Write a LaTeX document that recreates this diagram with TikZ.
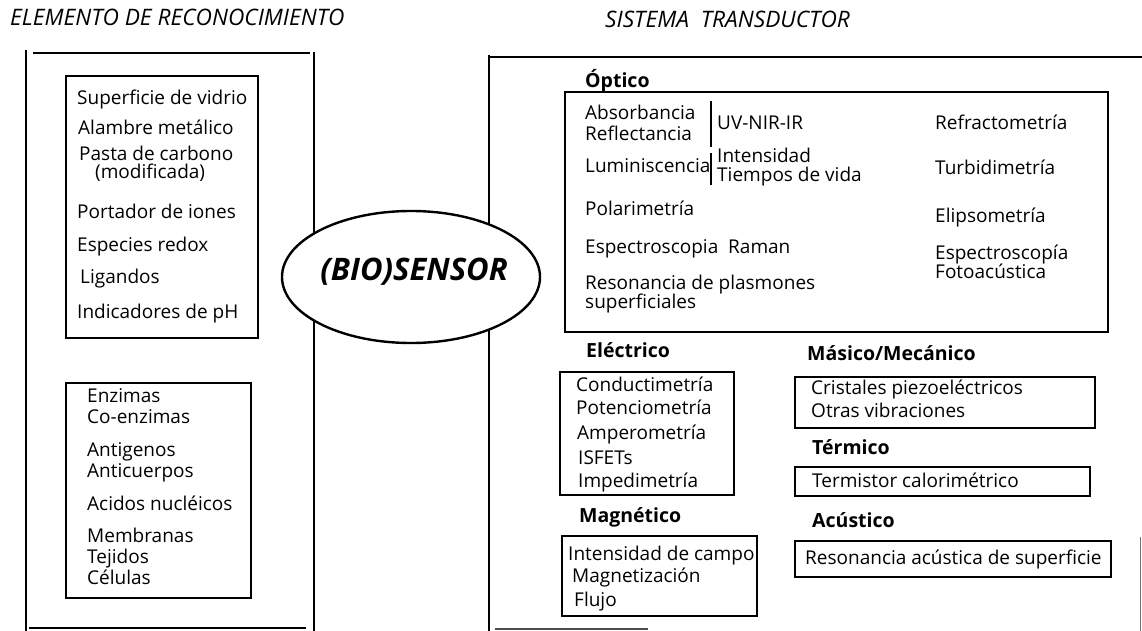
\documentclass[tikz,border=0pt]{standalone}
\usepackage{fontspec}
\setmainfont{Open Sans}
\usetikzlibrary{shapes.geometric}
\begin{document}
\begin{tikzpicture}[x=1pt,y=-1pt,
  txt/.style={anchor=mid west,inner sep=0pt,yshift=-1.5pt,font=\fontsize{19}{20}\selectfont},
  head/.style={anchor=mid west,inner sep=0pt,yshift=-1.5pt,font=\fontsize{19.5}{20}\selectfont\bfseries},
  ttl/.style={anchor=mid west,inner sep=0pt,font=\fontsize{22.7}{24}\selectfont\itshape},
  frame/.style={line width=2.8pt},
  inbox/.style={line width=1.3pt},
  brk/.style={line width=1.1pt},
]
\useasboundingbox (0,0) rectangle (1142,631);

% column titles
\node[ttl] (tleft) at (10,23) {ELEMENTO DE RECONOCIMIENTO};
\node[ttl] (tright) at (605,25) {SISTEMA\ \ TRANSDUCTOR};

% recognition element frame
\draw[frame] (26,50) -- (26,631);
\draw[frame] (314,52) -- (314,631);
\draw[frame] (33,53) -- (310,53);
\draw[frame] (29,628) -- (306,628);

% transducer frame
\draw[frame] (489,55) -- (489,631);
\draw[frame] (489,57) -- (1142,57);
\draw[line width=1.6pt,black!70] (495,629) -- (648,629);
\draw[line width=1pt,black!55] (1140,537) -- (1140,631);

% central ellipse
\node[draw,line width=2.4pt,fill=white,ellipse,minimum width=258pt,minimum height=132pt,inner sep=0pt]
  (bio) at (411,277) {};
\node[inner sep=0pt,font=\fontsize{31}{32}\selectfont\bfseries\itshape] (biotxt) at (414,272) {(BIO)SENSOR};

% recognition: first group
\draw[inbox] (66,76) rectangle (258,338);
\node[txt] (r1) at (77,100) {Superficie de vidrio};
\node[txt] (r2) at (78,130) {Alambre metálico};
\node[txt] (r3) at (79,156) {Pasta de carbono};
\node[txt] (r4) at (95,174) {(modificada)};
\node[txt] (r5) at (77,214) {Portador de iones};
\node[txt] (r6) at (77,247) {Especies redox};
\node[txt] (r7) at (80,279) {Ligandos};
\node[txt] (r8) at (77,314) {Indicadores de pH};

% recognition: biological group
\draw[inbox] (66,383) rectangle (251,598);
\node[txt] (b1) at (87,398) {Enzimas};
\node[txt] (b2) at (87,419) {Co-enzimas};
\node[txt] (b3) at (87,452) {Antigenos};
\node[txt] (b4) at (87,473) {Anticuerpos};
\node[txt] (b5) at (87,506) {Acidos nucléicos};
\node[txt] (b6) at (87,538) {Membranas};
\node[txt] (b7) at (87,559) {Tejidos};
\node[txt] (b8) at (87,580) {Células};

% optical transducers
\node[head] (hopt) at (585,83) {Óptico};
\draw[inbox] (565,92) rectangle (1108,332);
\node[txt] (o1) at (585,115) {Absorbancia};
\node[txt] (o2) at (585,136) {Reflectancia};
\draw[brk] (711,101) -- (711,147);
\node[txt] (o3) at (717,125) {UV-NIR-IR};
\node[txt] (o4) at (585,168) {Luminiscencia};
\draw[brk] (711,153) -- (711,185);
\node[txt] (o5) at (717,158) {Intensidad};
\node[txt] (o6) at (717,177) {Tiempos de vida};
\node[txt] (o7) at (585,211) {Polarimetría};
\node[txt] (o8) at (585,249) {Espectroscopia\ \ Raman};
\node[txt] (o9) at (585,285) {Resonancia de plasmones};
\node[txt] (o10) at (585,304) {superficiales};
\node[txt] (o11) at (935,125) {Refractometría};
\node[txt] (o12) at (935,170) {Turbidimetría};
\node[txt] (o13) at (935,218) {Elipsometría};
\node[txt] (o14) at (935,255) {Espectroscopía};
\node[txt] (o15) at (935,274) {Fotoacústica};

% electrical
\node[head] (hele) at (586,353) {Eléctrico};
\draw[inbox] (560,372) rectangle (734,495);
\node[txt] (e1) at (576,387) {Conductimetría};
\node[txt] (e2) at (576,410) {Potenciometría};
\node[txt] (e3) at (577,435) {Amperometría};
\node[txt] (e4) at (578,460) {ISFETs};
\node[txt] (e5) at (578,483) {Impedimetría};

% magnetic
\node[head] (hmag) at (579,518) {Magnético};
\draw[inbox] (562,536) rectangle (757,616);
\node[txt] (m1) at (568,556) {Intensidad de campo};
\node[txt] (m2) at (572,578) {Magnetización};
\node[txt] (m3) at (574,602) {Flujo};

% mass / mechanical
\node[head] (hmas) at (807,356) {Másico/Mecánico};
\draw[inbox] (795,377) rectangle (1095,428);
\node[txt] (k1) at (811,390) {Cristales piezoeléctricos};
\node[txt] (k2) at (811,413) {Otras vibraciones};

% thermal
\node[head] (hter) at (812,450) {Térmico};
\draw[inbox] (795,467) rectangle (1090,496);
\node[txt] (t1) at (812,483) {Termistor calorimétrico};

% acoustic
\node[head] (hacu) at (812,523) {Acústico};
\draw[inbox] (795,541) rectangle (1111,577);
\node[txt] (a1) at (805,560) {Resonancia acústica de superficie};
\end{tikzpicture}
\end{document}
